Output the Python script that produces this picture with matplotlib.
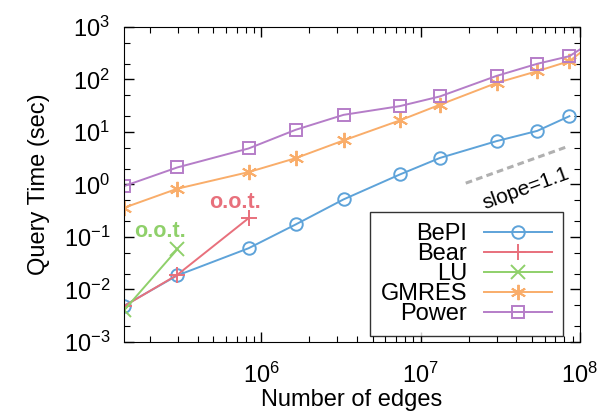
import numpy as np
import matplotlib
matplotlib.use("Agg")
import matplotlib.pyplot as plt
from matplotlib.ticker import LogLocator, NullFormatter

plt.rcParams['font.family'] = ['Liberation Sans', 'DejaVu Sans']
plt.rcParams['mathtext.default'] = 'regular'

# number of edges per dataset (last point lies just beyond the axis)
edges = [1.37e5, 2.96e5, 8.3e5, 1.64e6, 3.28e6, 7.4e6, 1.32e7, 3.0e7, 5.4e7, 8.6e7, 1.5e8]

bepi = [0.0049, 0.0185, 0.061, 0.173, 0.52, 1.55, 3.2, 6.7, 10.5, 20.0]
bear = [0.0048, 0.019, 0.228]
lu = [0.004, 0.058]
gmres = [0.36, 0.83, 1.72, 3.17, 6.9, 16.6, 33.0, 86.0, 144, 224, 820]
power = [0.93, 2.11, 4.85, 11.0, 21.2, 31.1, 47.5, 117, 199, 278, 820]

slope_x = [1.92e7, 8.4e7]
slope_y = [1.06, 5.3]

c_bepi = '#5ea3d9'
c_bear = '#e8707c'
c_lu = '#8fd06a'
c_gmres = '#f9ad6a'
c_power = '#b57dc8'

fig = plt.figure(figsize=(6.03, 4.19), dpi=100)
ax = fig.add_axes([0.2056, 0.1838, 0.756, 0.7518])

kw = dict(lw=1.4, ms=9, mew=1.4, fillstyle='none')
ax.plot(edges[:len(bepi)], bepi, color=c_bepi, marker='o', label='BePI', **kw)
ax.plot(edges[:len(bear)], bear, color=c_bear, marker='+', label='Bear', **dict(kw, ms=12))
ax.plot(edges[:len(lu)], lu, color=c_lu, marker='x', label='LU', **dict(kw, ms=10))
ax.plot(edges[:len(gmres)], gmres, color=c_gmres, marker=(6, 2, 0), label='GMRES', **dict(kw, ms=11))
ax.plot(edges[:len(power)], power, color=c_power, marker='s', label='Power', **kw)

# reference slope line
ax.plot(slope_x, slope_y, color='#b0b0b0', lw=2.2, ls=(0, (2.2, 1.4)))
ax.text(4.6e7, 0.82, 'slope=1.1', fontsize=15, rotation=20, ha='center', va='center')

ax.text(6.85e5, 0.46, 'o.o.t.', color=c_bear, fontsize=15.5, fontweight='bold', ha='center', va='center')
ax.text(2.32e5, 0.129, 'o.o.t.', color=c_lu, fontsize=15.5, fontweight='bold', ha='center', va='center')

ax.set_xscale('log')
ax.set_yscale('log')
ax.set_xlim(1.37e5, 1e8)
ax.set_ylim(1e-3, 1e3)
ax.set_xticks([1e6, 1e7, 1e8])
ax.set_yticks([1e-3, 1e-2, 1e-1, 1, 1e1, 1e2, 1e3])
ax.xaxis.set_minor_locator(LogLocator(base=10, subs=np.arange(2, 10), numticks=20))
ax.yaxis.set_minor_locator(LogLocator(base=10, subs=(2, 5), numticks=20))
ax.xaxis.set_minor_formatter(NullFormatter())
ax.yaxis.set_minor_formatter(NullFormatter())
ax.tick_params(which='both', direction='in', top=True, right=True, labelsize=17)
ax.tick_params(which='major', length=7, width=1)
ax.tick_params(which='minor', length=4, width=0.8)
ax.tick_params(axis='x', pad=15)
ax.tick_params(axis='y', pad=10)

ax.set_xlabel('Number of edges', fontsize=17, labelpad=1)
ax.set_ylabel('Query Time (sec)', fontsize=17, labelpad=10)

leg = ax.legend(loc='lower right', bbox_to_anchor=(0.963, 0.019), borderaxespad=0,
                markerfirst=False, fancybox=False, edgecolor='black', fontsize=17,
                handlelength=2.9, labelspacing=-0.08, borderpad=0.45, handletextpad=0.7)
leg.get_frame().set_linewidth(1)

fig.savefig('out.png', dpi=100)
